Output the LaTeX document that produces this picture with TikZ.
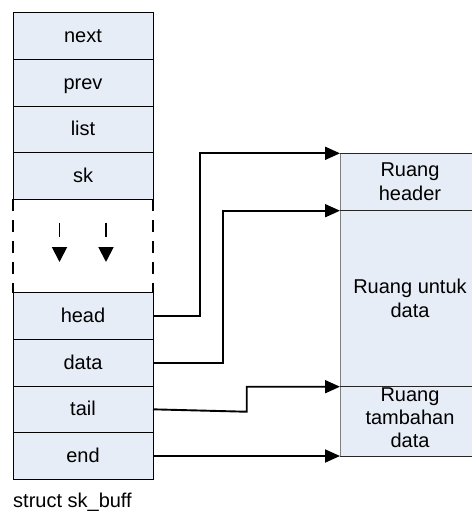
\documentclass[tikz,border=0pt]{standalone}
\usepackage{fontspec}
\setmainfont{Liberation Sans}
\usetikzlibrary{arrows.meta}
\definecolor{cellfill}{HTML}{E6EDF7}
\definecolor{frame}{HTML}{7F7F7F}
\begin{document}
\begin{tikzpicture}[x=1pt,y=-1pt,
  lbl/.style={font=\fontsize{20}{24}\selectfont},
  field/.style={lbl,draw=black,line width=0.9pt,fill=cellfill,
    minimum width=140pt,minimum height=46.67pt,inner sep=0pt,outer sep=0pt,
    text height=14pt,text depth=1pt},
  region/.style={draw=frame,line width=0.9pt,fill=cellfill,
    minimum width=140pt,inner sep=0pt,outer sep=0pt},
  divider/.style={draw=black!85,line width=0.9pt},
  rtext/.style={lbl,align=center,inner sep=0pt},
  gapline/.style={line width=1.6pt,dash pattern=on 12pt off 9pt},
  conn/.style={line width=1.9pt,-{Triangle[length=15pt,width=13pt]}},
  growarrow/.style={line width=1.9pt,dash pattern=on 14pt off 10pt,
    -{Triangle[length=15pt,width=15pt]}},
]
\useasboundingbox (0,0) rectangle (472,515);

% fields of the structure
\node[field] (fnext) at (83,36)    {next};
\node[field] (fprev) at (83,82.67) {prev};
\node[field] (flist) at (83,129.33){list};
\node[field] (fsk)   at (83,176)   {sk};
\node[field] (fhead) at (83,316)   {head};
\node[field] (fdata) at (83,362.67){data};
\node[field] (ftail) at (83,409.33){tail};
\node[field] (fend)  at (83,456)   {end};

% open part between sk and head
\draw[gapline] (fsk.south west) -- (fhead.north west);
\draw[gapline] (fsk.south east) -- (fhead.north east);
\coordinate (ga1) at (59.5,222.7);
\coordinate (gb1) at (59.5,262);
\coordinate (ga2) at (106,222.7);
\coordinate (gb2) at (106,262);
\draw[growarrow] (ga1) -- (gb1);
\draw[growarrow] (ga2) -- (gb2);

\node[lbl,anchor=base west,inner sep=0pt] (caption) at (13,507) {struct sk\_buff};

% buffer regions
\node[region,minimum height=57.4pt] (rhdr)  at (410,182)   {};
\node[region,minimum height=176pt]  (rdata) at (410,298.7) {};
\node[region,minimum height=70pt]   (rtail) at (410,421.7) {};
\draw[divider] (rhdr.north west) -- (rhdr.north east);
\draw[divider] (rhdr.south west) -- (rhdr.south east);
\draw[divider] (rtail.north west) -- (rtail.north east);
\draw[divider] (rtail.south west) -- (rtail.south east);

\node[rtext] (thdr)  at (410,182)   {Ruang\\header};
\node[rtext] (tdata) at (410,298.7) {Ruang untuk\\data};
\node[rtext,font=\fontsize{20}{23}\selectfont] (ttail) at (410,418) {Ruang\\tambahan\\data};

% pointers into the buffer
\draw[conn] (fhead.east) -- ++(47,0) |- (rhdr.north west);
\draw[conn] (fdata.east) -- ++(70.3,0) |- (rdata.north west);
\draw[conn] (ftail.east) -- ++(93.7,2.4) |- (rtail.north west);
\draw[conn] (fend.east) -- (fend.east -| rtail.west);
\end{tikzpicture}
\end{document}
